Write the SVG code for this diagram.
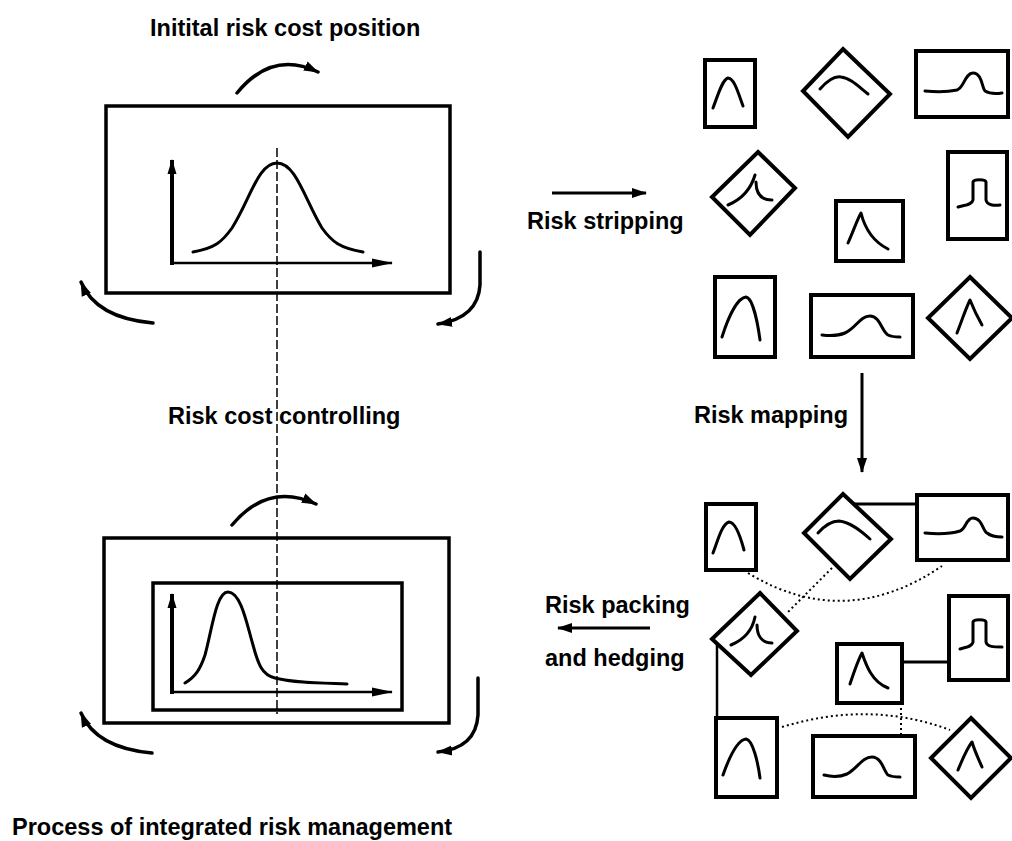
<svg xmlns="http://www.w3.org/2000/svg" width="1012" height="841" viewBox="0 0 1012 841">
<style>
.t{font-family:"Liberation Sans",Arial,sans-serif;font-weight:bold;font-size:23.5px;fill:#000}
.box{fill:none;stroke:#000;stroke-width:3.5}
.sb{fill:none;stroke:#000;stroke-width:4;stroke-linejoin:miter}
.cv{fill:none;stroke:#000;stroke-width:3;stroke-linecap:round;stroke-linejoin:round}
.ax{fill:none;stroke:#000;stroke-width:2.5}
.axv{fill:none;stroke:#000;stroke-width:4}
.ca{fill:none;stroke:#000;stroke-width:3.5;stroke-linecap:round}
.ln{fill:none;stroke:#000;stroke-width:3}
.dot{fill:none;stroke:#000;stroke-width:2;stroke-dasharray:2 3}
.dash{fill:none;stroke:#000;stroke-width:1.5;stroke-dasharray:9 3}
</style>
<defs>
<marker id="ah" markerUnits="userSpaceOnUse" markerWidth="16" markerHeight="12" refX="14" refY="6" orient="auto">
<path d="M0,1 L15,6 L0,11 z" fill="#000"/>
</marker>
<marker id="axh" markerUnits="userSpaceOnUse" markerWidth="22" markerHeight="10" refX="20" refY="5" orient="auto">
<path d="M0,0.5 L21,5 L0,9.5 z" fill="#000"/>
</marker>
<marker id="axv" markerUnits="userSpaceOnUse" markerWidth="16" markerHeight="10" refX="14" refY="5" orient="auto">
<path d="M0,0.5 L15,5 L0,9.5 z" fill="#000"/>
</marker>
</defs>

<g id="texts">
<text class="t" x="150" y="36">Initital risk cost position</text>
<text class="t" x="168" y="424">Risk cost controlling</text>
<text class="t" x="527" y="229">Risk stripping</text>
<text class="t" x="848" y="423" text-anchor="end">Risk mapping</text>
<text class="t" x="545" y="613">Risk packing</text>
<text class="t" x="545" y="666">and hedging</text>
<text class="t" x="12" y="835">Process of integrated risk management</text>
</g>

<g id="initial-position">
<rect class="box" x="106" y="106" width="344" height="187"/>
<path class="axv" d="M172,265 L172,160" marker-end="url(#axv)"/>
<path class="ax" d="M171,263 L392,263" marker-end="url(#axh)"/>
<path class="cv" d="M193,252 C215,248 222,242 232,228 C250,200 258,163 277,163 C296,163 305,200 322,228 C332,242 340,248 363,252"/>
</g>

<g id="controlled-position">
<rect class="box" x="104" y="538" width="345" height="185"/>
<rect class="box" x="153" y="583" width="249" height="127"/>
<path class="axv" d="M172,694 L172,594" marker-end="url(#axv)"/>
<path class="ax" d="M171,692 L392,692" marker-end="url(#axh)"/>
<path class="cv" d="M185,683 C195,677 200,670 205,655 C212,630 216,592 228,592 C241,592 247,625 253,645 C258,664 262,675 275,678 C295,683 320,683 347,684"/>
</g>

<g id="stripped-risks">
<rect id="A" class="sb" x="705" y="60" width="50" height="67"/>
<path class="cv" d="M713,108 C718,95 722,80 728,78 C734,78 738,92 743,106"/>
<polygon id="B" class="sb" points="843,49 890,94 848,137 803,91"/>
<path class="cv" d="M820,89 C828,80 835,76 841,77 C850,78 858,86 868,94"/>
<rect id="C" class="sb" x="916" y="51" width="92" height="66"/>
<path class="cv" d="M925,91 C935,92 948,92 957,90 C964,88 965,73 973,73 C982,73 982,88 985,91 C990,94 996,94 1002,93"/>
<polygon id="D" class="sb" points="758,152 795,188 750,235 712,197"/>
<path class="cv" d="M728,205 C740,200 750,192 755,175 M756,182 C756,192 760,200 772,200"/>
<rect id="E" class="sb" x="836" y="201" width="67" height="60"/>
<path class="cv" d="M848,243 C853,232 857,220 861,213 C864,225 870,240 888,249"/>
<rect id="F" class="sb" x="948" y="152" width="59" height="87"/>
<path class="cv" d="M958,207 C965,205 972,205 973,200 L973,182 C974,179 985,179 986,182 L986,200 C987,205 994,206 1000,205"/>
<rect id="G" class="sb" x="715" y="277" width="60" height="80"/>
<path class="cv" d="M722,337 C728,318 737,298 746,297 C753,298 758,325 760,340"/>
<rect id="H" class="sb" x="811" y="295" width="102" height="62"/>
<path class="cv" d="M822,335 C830,336 838,336 845,333 C856,328 860,316 870,316 C880,316 882,332 888,335 C892,337 896,337 900,337"/>
<polygon id="I" class="sb" points="970,277 1012,318 970,359 928,318"/>
<path class="cv" d="M957,333 C962,320 966,308 970,300 C974,310 978,318 982,325"/>
</g>

<g id="mapped-risks">
<rect id="a" class="sb" x="706" y="504" width="50" height="66"/>
<path class="cv" d="M713,553 C718,540 722,524 729,522 C735,522 740,535 744,550"/>
<polygon id="b" class="sb" points="843,494 891,539 850,579 804,533"/>
<path class="cv" d="M818,533 C826,524 832,521 839,521 C850,522 860,530 870,539"/>
<rect id="c" class="sb" x="917" y="495" width="91" height="65"/>
<path class="cv" d="M925,533 C936,534 950,534 960,531 C966,529 966,518 973,518 C982,518 983,531 987,533 C992,537 997,537 1002,537"/>
<polygon id="d" class="sb" points="760,593 797,631 751,675 712,639"/>
<path class="cv" d="M731,645 C743,640 752,632 755,617 M757,625 C757,636 762,643 772,643"/>
<rect id="e" class="sb" x="837" y="644" width="65" height="59"/>
<path class="cv" d="M850,684 C854,672 858,660 862,653 C866,665 872,682 888,688"/>
<rect id="f" class="sb" x="949" y="596" width="59" height="84"/>
<path class="cv" d="M960,649 C966,647 972,647 973,642 L973,622 C974,619 985,619 986,622 L986,642 C987,647 994,647 1002,647"/>
<rect id="g" class="sb" x="716" y="718" width="61" height="79"/>
<path class="cv" d="M723,775 C729,758 737,740 746,739 C753,740 758,763 760,778"/>
<rect id="h" class="sb" x="813" y="736" width="102" height="61"/>
<path class="cv" d="M824,775 C832,777 840,777 847,774 C858,768 862,757 872,757 C882,757 884,772 888,775 C892,777 896,777 900,777"/>
<polygon id="i" class="sb" points="971,718 1011,758 971,798 931,758"/>
<path class="cv" d="M958,770 C963,758 967,748 972,742 C975,752 979,760 982,767"/>
</g>

<g id="connectors">
<path class="dash" d="M277,148 L277,714"/>
<path class="ca" d="M237,93 Q272,50 318,72" marker-end="url(#ah)"/>
<path class="ca" d="M153,323 Q96,318 81,282" marker-end="url(#ah)"/>
<path class="ca" d="M480,252 L480,285 Q478,318 438,324" marker-end="url(#ah)"/>
<path class="ca" d="M232,525 Q268,482 316,504" marker-end="url(#ah)"/>
<path class="ca" d="M152,753 Q96,748 81,713" marker-end="url(#ah)"/>
<path class="ca" d="M478,678 L478,715 Q476,748 438,752" marker-end="url(#ah)"/>
<path class="ln" d="M552,193 L646,193" marker-end="url(#ah)"/>
<path class="ln" d="M862,373 L862,472" marker-end="url(#ah)"/>
<path class="ln" d="M650,628 L558,628" marker-end="url(#ah)"/>
<path class="ln" d="M854,504 L917,504"/>
<path class="ln" d="M902,662 L949,662"/>
<path class="ln" style="stroke-width:2.5" d="M717,643 L717,718"/>
<path class="dot" d="M748,573 Q845,632 942,566"/>
<path class="dot" d="M832,568 L788,612"/>
<path class="dot" d="M901,703 L901,736"/>
<path class="dot" d="M782,727 Q870,700 950,730"/>
</g>
</svg>
